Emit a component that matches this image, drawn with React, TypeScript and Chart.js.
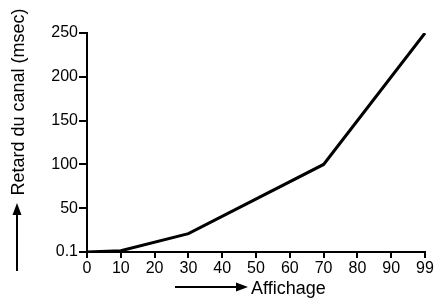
import React, { useEffect, useRef } from "react";
import { Chart, registerables } from "chart.js";

Chart.register(...registerables);

const xLabels = ["0", "10", "20", "30", "40", "50", "60", "70", "80", "90", "99"];
const delayValues: (number | null)[] = [0.1, 1.5, null, 21, null, null, null, 100, null, null, 250];
const yTicks = [0.1, 50, 100, 150, 200, 250];
const yTitle = "Retard du canal (msec)";
const xTitle = "Affichage";

const FONT = "'Liberation Sans', Arial, sans-serif";

const titlesPlugin = {
  id: "titlesArrows",
  afterDraw(chart: any) {
    const ctx = chart.ctx;
    ctx.save();
    ctx.fillStyle = "#000";
    ctx.strokeStyle = "#000";
    ctx.lineWidth = 2;
    // X title + arrow
    ctx.font = `18px ${FONT}`;
    ctx.textBaseline = "middle";
    ctx.textAlign = "left";
    ctx.fillText(xTitle, 251, 289);
    ctx.beginPath();
    ctx.moveTo(175, 287);
    ctx.lineTo(238, 287);
    ctx.stroke();
    ctx.beginPath();
    ctx.moveTo(248, 287);
    ctx.lineTo(236, 282.5);
    ctx.lineTo(236, 291.5);
    ctx.closePath();
    ctx.fill();
    // Y title + arrow
    ctx.save();
    ctx.translate(19, 102);
    ctx.rotate(-Math.PI / 2);
    ctx.textAlign = "center";
    ctx.fillText(yTitle, 0, 0);
    ctx.restore();
    ctx.beginPath();
    ctx.moveTo(17, 271);
    ctx.lineTo(17, 212);
    ctx.stroke();
    ctx.beginPath();
    ctx.moveTo(17, 203);
    ctx.lineTo(12.5, 215);
    ctx.lineTo(21.5, 215);
    ctx.closePath();
    ctx.fill();
    ctx.restore();
  },
};

export default function App() {
  const ref = useRef<HTMLCanvasElement | null>(null);
  useEffect(() => {
    if (!ref.current) return;
    const chart = new Chart(ref.current, {
      type: "line",
      data: {
        labels: xLabels,
        datasets: [
          {
            data: delayValues,
            borderColor: "#000",
            borderWidth: 3,
            pointRadius: 0,
            tension: 0,
            spanGaps: true,
          },
        ],
      },
      options: {
        animation: false,
        responsive: false,
        layout: { padding: { left: 0, top: 33, right: 12, bottom: 0 } },
        plugins: { legend: { display: false }, tooltip: { enabled: false } },
        scales: {
          x: {
            type: "category",
            offset: false,
            grid: { drawOnChartArea: false, drawTicks: true, tickLength: 6, color: "#000", lineWidth: 2 },
            border: { display: true, color: "#000", width: 2 },
            ticks: { color: "#000", font: { family: FONT, size: 16 }, padding: 1, maxRotation: 0, autoSkip: false },
            afterFit: (s: any) => {
              s.height = 51;
            },
          },
          y: {
            type: "linear",
            min: 0.1,
            max: 250,
            grid: { drawOnChartArea: false, drawTicks: true, tickLength: 8, color: "#000", lineWidth: 2 },
            border: { display: true, color: "#000", width: 2 },
            ticks: { color: "#000", font: { family: FONT, size: 16 }, padding: 1 },
            afterBuildTicks: (s: any) => {
              s.ticks = yTicks.map((v) => ({ value: v }));
            },
            afterFit: (s: any) => {
              s.width = 87;
            },
          },
        },
      },
      plugins: [titlesPlugin],
    });
    return () => chart.destroy();
  }, []);
  return (
    <div style={{ position: "fixed", left: 0, top: 0, width: 437, height: 303, background: "#fff" }}>
      <canvas ref={ref} width={437} height={303} />
    </div>
  );
}
